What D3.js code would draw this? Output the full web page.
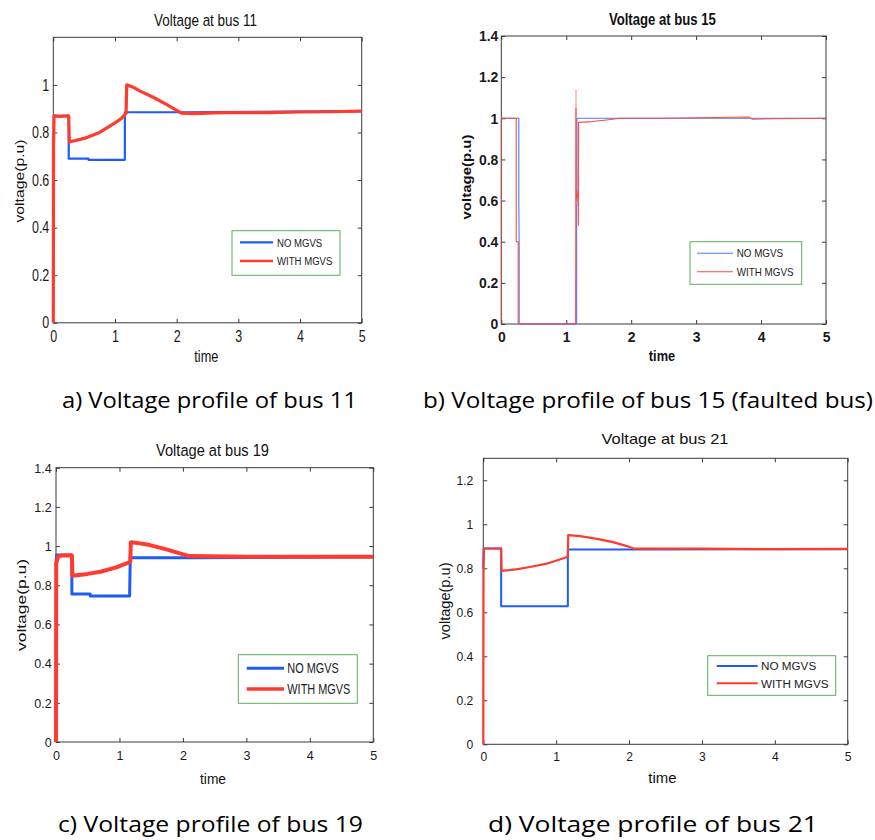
<!DOCTYPE html>
<html><head><meta charset="utf-8">
<script src="https://cdn.jsdelivr.net/npm/d3@7"></script>
<style>body{margin:0;background:#fff}</style>
</head><body>
<svg id="chart" width="875" height="840"></svg>
<script>
// ---------------- DATA ----------------
const timeTicks = [0, 1, 2, 3, 4, 5];
const yTicks12 = [0, 0.2, 0.4, 0.6, 0.8, 1];
const yTicks14 = [0, 0.2, 0.4, 0.6, 0.8, 1, 1.2, 1.4];
const yTicks13 = [0, 0.2, 0.4, 0.6, 0.8, 1, 1.2];
const seriesNames = ["NO MGVS", "WITH MGVS"];
const titles = ["Voltage at bus 11", "Voltage at bus 15", "Voltage at bus 19", "Voltage at bus 21"];
const captions = ["a) Voltage profile of bus 11", "b) Voltage profile of bus 15 (faulted bus)",
                  "c) Voltage profile of bus 19", "d) Voltage profile of bus 21"];
const xLabel = "time";
const yLabel = "voltage(p.u)";

// bus 11
const bus11NoT   = [0, 0.25, 0.25, 0.57, 0.57, 1.16, 1.16, 2.1, 5];
const bus11NoV   = [0.87, 0.87, 0.69, 0.69, 0.685, 0.685, 0.885, 0.885, 0.89];
const bus11WithT = [0, 0.004, 0.012, 0.1, 0.25, 0.26, 0.5, 0.75, 1.0, 1.1, 1.16, 1.18, 1.19, 1.3, 1.4, 1.62, 1.84, 2.0, 2.08, 2.3, 2.6, 3, 3.5, 4, 4.5, 5];
const bus11WithV = [0, 0.75, 0.87, 0.868, 0.87, 0.76, 0.775, 0.8, 0.84, 0.858, 0.875, 0.88, 1.0, 0.99, 0.975, 0.948, 0.917, 0.893, 0.881, 0.879, 0.882, 0.884, 0.883, 0.886, 0.887, 0.89];

// bus 15 (faulted)
const bus15NoT   = [0, 0.27, 0.27, 0.275, 0.275, 1.16, 1.16, 1.165, 1.165, 5];
const bus15NoV   = [1.0, 1.0, 0.59, 0.39, 0, 0, 0.58, 0.58, 1.0, 1.0];
const bus15WithT = [0, 0.23, 0.23, 0.26, 0.26, 1.145, 1.15, 1.155, 1.185, 1.187, 1.19, 1.4, 1.62, 1.83, 2.5, 3.3, 3.8, 3.87, 4.2, 5];
const bus15WithV = [1.0, 1.0, 0.4, 0.4, 0, 0, 1.05, 0.6, 0.65, 0.48, 0.98, 0.984, 0.992, 1.0, 1.0, 1.004, 1.006, 0.995, 0.998, 1.0];
const bus15FaintT = [0, 0, NaN, 1.15, 1.15];
const bus15FaintV = [0, 1.0, NaN, 0.6, 1.14];

// bus 19
const bus19NoT   = [0, 0.01, 0.25, 0.25, 0.54, 0.54, 1.16, 1.17, 2.1, 5];
const bus19NoV   = [0.9, 0.955, 0.955, 0.755, 0.755, 0.745, 0.745, 0.94, 0.94, 0.945];
const bus19WithT = [0, 0.003, 0.03, 0.08, 0.25, 0.26, 0.5, 0.7, 0.95, 1.14, 1.17, 1.18, 1.3, 1.48, 1.74, 1.95, 2.1, 3, 4, 5];
const bus19WithV = [0, 0.91, 0.945, 0.952, 0.952, 0.848, 0.858, 0.869, 0.891, 0.915, 0.92, 1.02, 1.015, 1.005, 0.983, 0.963, 0.949, 0.945, 0.946, 0.946];

// bus 21
const bus21NoT   = [0, 0.005, 0.245, 0.245, 1.16, 1.16, 2.1, 5];
const bus21NoV   = [0.8, 0.89, 0.89, 0.627, 0.627, 0.885, 0.885, 0.887];
const bus21WithT = [0, 0.003, 0.01, 0.245, 0.25, 0.45, 0.64, 0.87, 1.14, 1.16, 1.165, 1.33, 1.56, 1.78, 1.97, 2.07, 3, 4, 5];
const bus21WithV = [0, 0.8, 0.89, 0.89, 0.788, 0.795, 0.806, 0.821, 0.85, 0.852, 0.951, 0.946, 0.934, 0.919, 0.901, 0.889, 0.889, 0.887, 0.888];

// ---------------- LAYOUT ----------------
const FONT = "'Liberation Sans', Arial, Helvetica, sans-serif";
const AXIS = "#3a3a3a";
const panels = [
  { l: 53.3, r: 361.7, t: 37.3, b: 322.8, yMax: 1.2, yT: yTicks12,
    noT: bus11NoT, noV: bus11NoV, wT: bus11WithT, wV: bus11WithV,
    blue: "#1f5cf5", red: "#ff3b2f", bw: 2.2, rw: 3.2, lbw: 2.2, lrw: 2.6, bold: false,
    tickFs: 16, tickK: 0.78, xPad: 8, yGap: 4,
    title: { x: 205.5, y: 26, fs: 16.8, len: 103 },
    xl: { x: 206.3, y: 362, fs: 16, len: 24 },
    yl: { x: 24, y: 181, fs: 15.7, len: 83, k: 0.8 },
    leg: { x0: 232, y0: 230.7, x1: 340, y1: 275.3, ly: [242.3, 261], lx0: 240, lx1: 273, tx: 277, fs: 11.7, k: 0.82 },
    cap: { x: 62, y: 408, len: 295 } },
  { l: 501.3, r: 826, t: 36, b: 324, yMax: 1.4, yT: yTicks14,
    noT: bus15NoT, noV: bus15NoV, wT: bus15WithT, wV: bus15WithV, fT: bus15FaintT, fV: bus15FaintV,
    blue: "#4a7bff", red: "#ff4a42", bw: 1.1, rw: 1.1, lbw: 1.1, lrw: 1.1, bold: true,
    tickFs: 15, tickK: 0.93, xPad: 7, yGap: 3,
    title: { x: 662.4, y: 25, fs: 16.3, len: 107 },
    xl: { x: 662, y: 361, fs: 15, len: 26.3 },
    yl: { x: 471, y: 177, fs: 15, len: 85, k: 0.85 },
    leg: { x0: 690, y0: 241.7, x1: 801.7, y1: 284.3, ly: [253.3, 271.7], lx0: 697, lx1: 733, tx: 736.7, fs: 10.7, k: 0.92 },
    cap: { x: 423, y: 408, len: 450 } },
  { l: 56, r: 373.3, t: 467.7, b: 742, yMax: 1.4, yT: yTicks14,
    noT: bus19NoT, noV: bus19NoV, wT: bus19WithT, wV: bus19WithV,
    blue: "#1f5cf5", red: "#ff3b2f", bw: 3, rw: 4, lbw: 3, lrw: 3.5, bold: false,
    tickFs: 13.5, tickK: 0.93, xPad: 8.6, yGap: 4.3,
    title: { x: 212.5, y: 456, fs: 16.7, len: 113 },
    xl: { x: 213, y: 784, fs: 15.5, len: 26 },
    yl: { x: 26, y: 605, fs: 16.5, len: 92, k: 0.8 },
    leg: { x0: 238.3, y0: 654.7, x1: 357.3, y1: 703.3, ly: [668.3, 689], lx0: 246.7, lx1: 284, tx: 287.3, fs: 14, k: 0.78 },
    cap: { x: 58, y: 832, len: 305 } },
  { l: 483.3, r: 847.7, t: 458.3, b: 744.3, yMax: 1.3, yT: yTicks13,
    noT: bus21NoT, noV: bus21NoV, wT: bus21WithT, wV: bus21WithV,
    blue: "#1f5cf5", red: "#ff3b2f", bw: 2, rw: 2.2, lbw: 2, lrw: 2, bold: false,
    tickFs: 12.5, tickK: 0.97, xPad: 8, yGap: 10,
    title: { x: 665, y: 444, fs: 15, len: 127 },
    xl: { x: 662.5, y: 783, fs: 15, len: 28.3 },
    yl: { x: 450, y: 601, fs: 14.6, len: 77, k: 1 },
    leg: { x0: 707.7, y0: 655.7, x1: 835.7, y1: 695.3, ly: [666, 683.3], lx0: 716.7, lx1: 757.7, tx: 761, fs: 11.7, k: 1 },
    cap: { x: 488, y: 832, len: 330 } }
];

const svg = d3.select("#chart");
svg.append("rect").attr("width", 875).attr("height", 840).attr("fill", "#fff");

panels.forEach((p, i) => {
  const g = svg.append("g");
  const x = d3.scaleLinear().domain([0, 5]).range([p.l, p.r]);
  const y = d3.scaleLinear().domain([0, p.yMax]).range([p.b, p.t]);
  const fw = p.bold ? "bold" : "normal";

  // frame
  g.append("rect").attr("x", p.l).attr("y", p.t).attr("width", p.r - p.l).attr("height", p.b - p.t)
    .attr("fill", "none").attr("stroke", AXIS).attr("stroke-width", 1);

  const fmt = d => String(d);
  const styleTicks = (sel, isLeft) => {
    sel.select(".domain").remove();
    sel.selectAll(".tick line").attr("stroke", AXIS);
    sel.selectAll("text").attr("font-size", p.tickFs).attr("font-family", FONT)
      .attr("font-weight", fw).attr("fill", "#1a1a1a")
      .attr("transform", `scale(${p.tickK},1)`);
    if (isLeft) sel.selectAll("text").attr("x", -p.yGap / p.tickK);
  };
  g.append("g").attr("transform", `translate(0,${p.b})`)
    .call(d3.axisBottom(x).tickValues(timeTicks).tickSize(-4).tickSizeOuter(0).tickPadding(p.xPad).tickFormat(fmt))
    .call(s => styleTicks(s, false));
  g.append("g").attr("transform", `translate(0,${p.t})`)
    .call(d3.axisTop(x).tickValues(timeTicks).tickSize(-4).tickSizeOuter(0).tickFormat(""))
    .call(s => styleTicks(s, false));
  g.append("g").attr("transform", `translate(${p.l},0)`)
    .call(d3.axisLeft(y).tickValues(p.yT).tickSize(-4).tickSizeOuter(0).tickFormat(fmt))
    .call(s => styleTicks(s, true));
  g.append("g").attr("transform", `translate(${p.r},0)`)
    .call(d3.axisRight(y).tickValues(p.yT).tickSize(-4).tickSizeOuter(0).tickFormat(""))
    .call(s => styleTicks(s, false));

  // series
  const line = d3.line().defined(q => !isNaN(q[0])).x(q => x(q[0])).y(q => y(q[1]));
  if (p.fT) {
    g.append("path").datum(d3.zip(p.fT, p.fV)).attr("d", line).attr("fill", "none")
      .attr("stroke", p.red).attr("stroke-opacity", 0.4).attr("stroke-width", 1.6);
  }
  g.append("path").datum(d3.zip(p.noT, p.noV)).attr("d", line).attr("fill", "none")
    .attr("stroke", p.blue).attr("stroke-width", p.bw).attr("stroke-linejoin", "round");
  g.append("path").datum(d3.zip(p.wT, p.wV)).attr("d", line).attr("fill", "none")
    .attr("stroke", p.red).attr("stroke-width", p.rw).attr("stroke-linejoin", "round");

  // title
  g.append("text").attr("x", p.title.x).attr("y", p.title.y).attr("text-anchor", "middle")
    .attr("font-family", FONT).attr("font-size", p.title.fs).attr("font-weight", fw)
    .attr("textLength", p.title.len).attr("lengthAdjust", "spacingAndGlyphs").attr("fill", "#111")
    .text(titles[i]);
  // x label
  g.append("text").attr("x", p.xl.x).attr("y", p.xl.y).attr("text-anchor", "middle")
    .attr("font-family", FONT).attr("font-size", p.xl.fs).attr("font-weight", fw)
    .attr("textLength", p.xl.len).attr("lengthAdjust", "spacingAndGlyphs").attr("fill", "#111")
    .text(xLabel);
  // y label
  g.append("text").attr("transform", `translate(${p.yl.x},${p.yl.y}) rotate(-90) scale(1,${p.yl.k})`)
    .attr("text-anchor", "middle")
    .attr("font-family", FONT).attr("font-size", p.yl.fs).attr("font-weight", fw)
    .attr("textLength", p.yl.len).attr("lengthAdjust", "spacingAndGlyphs").attr("fill", "#111")
    .text(yLabel);

  // legend
  const L = p.leg;
  g.append("rect").attr("x", L.x0).attr("y", L.y0).attr("width", L.x1 - L.x0).attr("height", L.y1 - L.y0)
    .attr("fill", "#fff").attr("stroke", "#5fae5f").attr("stroke-width", 1);
  [p.blue, p.red].forEach((c, j) => {
    g.append("line").attr("x1", L.lx0).attr("x2", L.lx1).attr("y1", L.ly[j]).attr("y2", L.ly[j])
      .attr("stroke", c).attr("stroke-width", j === 0 ? p.lbw : p.lrw);
    g.append("text").attr("transform", `translate(${L.tx},${L.ly[j] + L.fs * 0.36}) scale(${L.k},1)`)
      .attr("font-family", FONT).attr("font-size", L.fs).attr("fill", "#222")
      .text(seriesNames[j]);
  });

  // caption
  svg.append("text").attr("x", p.cap.x).attr("y", p.cap.y)
    .attr("font-family", "'Open Sans','Noto Sans',sans-serif").attr("font-size", 21.5)
    .attr("textLength", p.cap.len).attr("lengthAdjust", "spacingAndGlyphs").attr("fill", "#000")
    .text(captions[i]);
});
</script>
</body></html>
